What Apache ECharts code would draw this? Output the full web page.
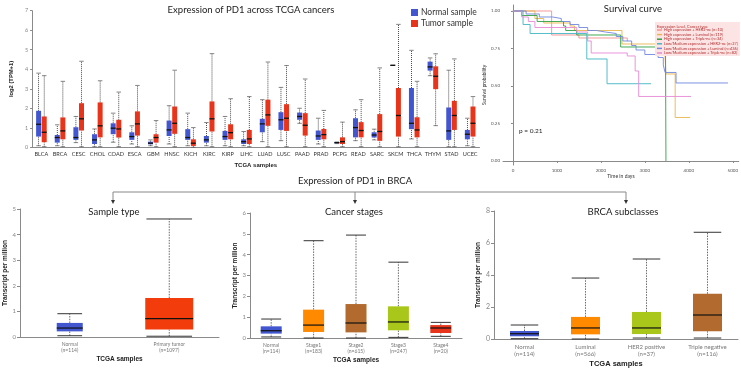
<!DOCTYPE html>
<html>
<head>
<meta charset="utf-8">
<script src="https://cdn.jsdelivr.net/npm/echarts@6/dist/echarts.min.js"></script>
<style>
  html, body { margin: 0; padding: 0; background: #fff; }
  #chart { width: 741px; height: 370px; }
</style>
</head>
<body>
<div id="chart"></div>
<script>
// 泛癌箱线图 (low, q1, median, q3, high)
const cancers = ["BLCA", "BRCA", "CESC", "CHOL", "COAD", "ESCA", "GBM", "HNSC", "KICH", "KIRC", "KIRP", "LIHC",
  "LUAD", "LUSC", "PAAD", "PRAD", "PCPG", "READ", "SARC", "SKCM", "THCA", "THYM", "STAD", "UCEC"];
const normalStats = [
  [0.08, 0.55, 1.18, 1.87, 3.8], [0.08, 0.24, 0.5, 0.63, 1.15], [0.24, 0.38, 0.5, 1.03, 1.58],
  [0.03, 0.17, 0.38, 0.67, 0.94], [0.26, 0.67, 0.98, 1.23, 1.75], [0.17, 0.38, 0.55, 0.77, 1.1],
  [0.08, 0.15, 0.21, 0.29, 0.38], [0.17, 0.58, 0.89, 1.37, 2.13], [0.08, 0.38, 0.5, 0.93, 1.75],
  [0.08, 0.24, 0.38, 0.58, 1.27], [0.08, 0.38, 0.55, 0.84, 1.58], [0.08, 0.17, 0.29, 0.41, 0.81],
  [0.29, 0.77, 1.2, 1.46, 2.44], [0.34, 0.89, 1.41, 1.8, 3.07], [1.23, 1.41, 1.58, 1.78, 2.0],
  [0.17, 0.38, 0.58, 0.86, 1.49], [0.19, 0.21, 0.24, 0.26, 0.27], [0.34, 0.51, 1.01, 1.49, 1.92],
  [0.38, 0.5, 0.63, 0.77, 0.93], [4.2, 4.2, 4.2, 4.2, 4.2], [0.43, 0.93, 1.23, 3.04, 4.97],
  [3.67, 3.93, 4.12, 4.39, 4.58], [0.03, 0.38, 0.84, 2.04, 3.95], [0.08, 0.41, 0.67, 0.89, 1.49],
];
const tumorStats = [
  [0.03, 0.26, 0.77, 1.58, 3.67], [0.03, 0.41, 0.84, 1.53, 3.38], [0.03, 0.86, 1.46, 2.26, 4.41],
  [0.03, 0.51, 1.1, 2.3, 3.41], [0.03, 0.5, 0.94, 1.41, 2.83], [0.03, 0.6, 1.2, 1.84, 3.17],
  [0.03, 0.24, 0.5, 0.67, 1.37], [0.03, 0.69, 1.23, 2.09, 3.95], [0, 0.07, 0.21, 0.41, 1.01],
  [0.03, 0.81, 1.46, 2.35, 4.8], [0.03, 0.41, 0.75, 1.18, 2.49], [0.03, 0.17, 0.43, 0.89, 2.6],
  [0.03, 1.1, 1.66, 2.44, 4.37], [0.03, 0.84, 1.49, 2.21, 4.19], [0.03, 0.6, 1.13, 1.75, 3.5],
  [0.03, 0.41, 0.65, 0.94, 1.89], [0.03, 0.17, 0.29, 0.51, 1.29], [0.03, 0.51, 0.86, 1.29, 2.44],
  [0.03, 0.33, 0.81, 1.7, 4.07], [0.03, 0.55, 1.63, 3.04, 6.3], [0.03, 0.51, 0.89, 1.54, 3.38],
  [1.11, 2.98, 3.64, 4.15, 4.79], [0.03, 0.89, 1.63, 2.38, 4.53], [0.03, 0.55, 1.23, 2.09, 2.6],
];

// 生存曲线 [天数, 生存率]
const survNames = [
  "High expression + HER2-ne (n=10)",
  "High expression + Luminal (n=119)",
  "High expression + Triple-ne (n=34)",
  "Low/Medium expression + HER2-ne (n=27)",
  "Low/Medium expression + Luminal (n=436)",
  "Low/Medium expression + Triple-ne (n=82)",
];
const survHighHer2 = [[0, 1], [880, 0.84], [1500, 0.82], [2600, 0.8], [2620, 0.8]];
const survHighLum = [[0, 1], [500, 0.95], [700, 0.92], [1300, 0.9], [1400, 0.87], [2480, 0.78], [3450, 0.75],
  [3480, 0.58], [3690, 0.29], [4030, 0.29]];
const survHighTri = [[0, 1], [200, 0.97], [550, 0.93], [1150, 0.9], [1200, 0.87], [1450, 0.84], [2450, 0.76],
  [3470, 0.76], [3480, 0]];
const survLowHer2 = [[0, 1], [230, 0.91], [390, 0.85], [1680, 0.68], [2140, 0.515], [3140, 0.515]];
const survLowLum = [[0, 1], [300, 0.98], [600, 0.96], [900, 0.95], [1100, 0.93], [1300, 0.91], [1500, 0.89],
  [1700, 0.87], [1900, 0.86], [2100, 0.85], [2350, 0.83], [2500, 0.8], [2700, 0.77], [2800, 0.74],
  [3000, 0.71], [3300, 0.69], [3420, 0.64], [3460, 0.59], [3710, 0.52], [4890, 0.52]];
const survLowTri = [[0, 1], [200, 0.96], [350, 0.93], [500, 0.89], [1450, 0.86], [1700, 0.8], [1780, 0.72],
  [2600, 0.7], [2780, 0.6], [2860, 0.43], [4050, 0.43]];
const survTicksX = [0, 1000, 2000, 3000, 4000, 5000];
const survTicksY = [0, 0.25, 0.5, 0.75, 1];

// BRCA 子图
const typeCats = ["Normal\n(n=114)", "Primary tumor\n(n=1097)"];
const typeStats = [[0.05, 0.22, 0.35, 0.55, 0.91], [0.03, 0.29, 0.72, 1.52, 4.61]];
const stageCats = ["Normal\n(n=114)", "Stage1\n(n=183)", "Stage2\n(n=615)", "Stage3\n(n=247)", "Stage4\n(n=20)"];
const stageStats = [[0.05, 0.21, 0.35, 0.56, 0.91], [0, 0.29, 0.62, 1.36, 4.67], [0, 0.27, 0.72, 1.63, 4.94],
  [0.03, 0.37, 0.77, 1.52, 3.64], [0.08, 0.24, 0.48, 0.62, 0.75]];
const subCats = ["Normal\n(n=114)", "Luminal\n(n=566)", "HER2 positive\n(n=37)", "Triple negative\n(n=116)"];
const subStats = [[0.02, 0.17, 0.33, 0.5, 0.875], [0, 0.29, 0.69, 1.38, 3.81], [0.06, 0.31, 0.69, 1.69, 5.0],
  [0.06, 0.48, 1.5, 2.83, 6.67]];

// 颜色和尺寸
const BLUE = "#4257cf", RED = "#e8341a", ORANGE = "#ff8a00", BROWN = "#b26a2e", LIME = "#a9c71a";
const typeColors = [BLUE, "#f23c0c"];
const stageColors = [BLUE, ORANGE, BROWN, LIME, RED];
const subColors = [BLUE, ORANGE, LIME, BROWN];
const survColors = ["#f49090", "#e8b64c", "#2ea043", "#3fb6c4", "#6f88e0", "#e68ad6"];
const typeWidths = [26, 48];

function toBoxData(stats, colors) {
  return stats.map((s, i) => ({
    value: [i].concat(s),
    itemStyle: colors ? { color: colors[i] } : undefined,
  }));
}

function boxRender(offset, widthOf, opt) {
  return function (params, api) {
    const i = api.value(0);
    const lo = api.coord([i, api.value(1)]);
    const q1 = api.coord([i, api.value(2)]);
    const md = api.coord([i, api.value(3)]);
    const q3 = api.coord([i, api.value(4)]);
    const hi = api.coord([i, api.value(5)]);
    const w = widthOf(params.dataIndex);
    const x = lo[0] + offset;
    const cw = w * opt.cap;
    const color = api.visual("color");
    const dash = { stroke: opt.whisker, lineWidth: 0.8, lineDash: opt.dash };
    const capStyle = { stroke: opt.capColor, lineWidth: opt.capWidth };
    return {
      type: "group",
      children: [
        { type: "line", shape: { x1: x, y1: lo[1], x2: x, y2: q1[1] }, style: dash },
        { type: "line", shape: { x1: x, y1: q3[1], x2: x, y2: hi[1] }, style: dash },
        { type: "line", shape: { x1: x - cw / 2, y1: lo[1], x2: x + cw / 2, y2: lo[1] }, style: capStyle },
        { type: "line", shape: { x1: x - cw / 2, y1: hi[1], x2: x + cw / 2, y2: hi[1] }, style: capStyle },
        { type: "rect", shape: { x: x - w / 2, y: q3[1], width: w, height: q1[1] - q3[1] }, style: { fill: color } },
        { type: "line", shape: { x1: x - w / 2, y1: md[1], x2: x + w / 2, y2: md[1] },
          style: { stroke: "#111", lineWidth: opt.medWidth } },
      ],
    };
  };
}

const styleA = { whisker: "#222", dash: [1, 1], capColor: "#666", capWidth: 0.8, cap: 0.9, medWidth: 1.3 };
const styleC = { whisker: "#444", dash: [1.5, 1.2], capColor: "#333", capWidth: 1, cap: 0.95, medWidth: 1.2 };

const FONT = "Lato";
const grayAxis = { show: true, lineStyle: { color: "#8a8a8a", width: 1 } };

function catAxis(grid, cats, fs, nameGap, nameSize) {
  return {
    type: "category", gridIndex: grid, data: cats,
    axisLine: grayAxis, axisTick: { show: false },
    axisLabel: { interval: 0, fontSize: fs, color: "#777", margin: 4, lineHeight: fs + 1.2, fontFamily: FONT },
    name: "TCGA samples", nameLocation: "middle", nameGap: nameGap,
    nameTextStyle: { fontSize: nameSize, fontWeight: "bold", color: "#222", fontFamily: "Liberation Sans" },
  };
}
function valAxis(grid, max, interval, fs, nameGap) {
  return {
    type: "value", gridIndex: grid, min: 0, max: max, interval: interval,
    axisLine: grayAxis, axisTick: { show: true, length: 3, lineStyle: { color: "#8a8a8a" } },
    splitLine: { show: false },
    axisLabel: { fontSize: fs, color: "#888", margin: 4, fontFamily: FONT },
    name: "Transcript per million", nameLocation: "middle", nameGap: nameGap,
    nameTextStyle: { fontSize: 6.5, fontWeight: "bold", color: "#222", fontFamily: "Liberation Sans" },
  };
}

function arrow(x) {
  return [
    { type: "line", shape: { x1: x, y1: 192, x2: x, y2: 201 }, style: { stroke: "#888", lineWidth: 1 } },
    { type: "polygon", shape: { points: [[x - 2, 200], [x + 2, 200], [x, 204]] }, style: { fill: "#333" } },
  ];
}
function label(text, x, y, size) {
  return {
    type: "text", x: x, y: y,
    style: { text: text, fontSize: size, fontFamily: FONT, fill: "#222", textAlign: "center", textVerticalAlign: "middle" },
  };
}

const survSeries = [survHighHer2, survHighLum, survHighTri, survLowHer2, survLowLum, survLowTri].map((d, k) => ({
  name: survNames[k], type: "line", xAxisIndex: 1, yAxisIndex: 1, step: "end", data: d,
  showSymbol: false, lineStyle: { width: 0.9, color: survColors[k] }, itemStyle: { color: survColors[k] },
  z: 3,
}));

const chart = echarts.init(document.getElementById("chart"));
chart.setOption({
  animation: false,
  backgroundColor: "#fff",
  textStyle: { fontFamily: FONT },
  grid: [
    { left: 21.5, top: 10.7, width: 458, height: 136.6 },
    { left: 503, top: 5, width: 237, height: 160 },
    { left: 20, top: 209, width: 199, height: 128 },
    { left: 250, top: 213, width: 212, height: 125 },
    { left: 494, top: 211, width: 244, height: 128 },
  ],
  legend: [
    {
      data: ["Normal sample", "Tumor sample"], left: 411, top: 8, orient: "vertical",
      icon: "rect", itemWidth: 7, itemHeight: 7, itemGap: 2, padding: 0,
      textStyle: { fontSize: 8.5, color: "#333", fontFamily: FONT, padding: [0, 0, 0, -2] },
    },
    {
      data: survNames, left: 655, top: 22, orient: "vertical", icon: "rect",
      itemWidth: 5, itemHeight: 1.5, itemGap: 0.6, padding: [6, 2, 1, 2],
      backgroundColor: "#fde4e4",
      textStyle: { fontSize: 3.9, color: "#b02a2a", fontFamily: FONT, padding: [0, 0, 0, -3] },
    },
  ],
  xAxis: [
    {
      type: "category", gridIndex: 0, data: cancers,
      axisLine: grayAxis, axisTick: { show: false },
      axisLabel: { interval: 0, fontSize: 5.6, color: "#333", margin: 4, fontFamily: FONT },
      name: "TCGA samples", nameLocation: "middle", nameGap: 15,
      nameTextStyle: { fontSize: 6, fontWeight: "bold", color: "#222", fontFamily: "Liberation Sans" },
    },
    {
      type: "value", gridIndex: 1, min: -226, max: 5136,
      axisLine: grayAxis, splitLine: { show: false },
      axisTick: { show: true, length: 2, customValues: survTicksX, lineStyle: { color: "#888" } },
      axisLabel: { fontSize: 4.5, color: "#555", margin: 3, customValues: survTicksX,
        formatter: (v) => String(v) },
      name: "Time in days", nameLocation: "middle", nameGap: 9,
      nameTextStyle: { fontSize: 5, color: "#333" },
    },
    catAxis(2, typeCats, 5, 19, 6.5),
    catAxis(3, stageCats, 5, 19, 6.5),
    catAxis(4, subCats, 6, 21, 7.5),
  ],
  yAxis: [
    {
      type: "value", gridIndex: 0, min: 0, max: 7, interval: 1,
      axisLine: grayAxis, axisTick: { show: true, length: 2, lineStyle: { color: "#8a8a8a" } },
      splitLine: { show: false },
      axisLabel: { fontSize: 5.5, color: "#888", margin: 4 },
      name: "log2 (TPM+1)", nameLocation: "middle", nameGap: 11,
      nameTextStyle: { fontSize: 5.8, fontWeight: "bold", color: "#222", fontFamily: "Liberation Sans" },
    },
    {
      type: "value", gridIndex: 1, min: -0.027, max: 1.04,
      axisLine: grayAxis, splitLine: { show: false },
      axisTick: { show: true, length: 2, customValues: survTicksY, lineStyle: { color: "#888" } },
      axisLabel: { fontSize: 4.5, color: "#555", margin: 3, customValues: survTicksY,
        formatter: (v) => v.toFixed(2) },
      name: "Survival probability", nameLocation: "middle", nameGap: 12,
      nameTextStyle: { fontSize: 4.8, color: "#333" },
    },
    valAxis(2, 5, 1, 6, 11),
    valAxis(3, 6, 1, 6, 11),
    valAxis(4, 8, 2, 7, 11),
  ],
  series: [
    {
      name: "Normal sample", type: "custom", xAxisIndex: 0, yAxisIndex: 0,
      itemStyle: { color: BLUE }, encode: { x: 0, y: [1, 2, 3, 4, 5] },
      data: toBoxData(normalStats), renderItem: boxRender(-2.8, () => 5, styleA),
    },
    {
      name: "Tumor sample", type: "custom", xAxisIndex: 0, yAxisIndex: 0,
      itemStyle: { color: RED }, encode: { x: 0, y: [1, 2, 3, 4, 5] },
      data: toBoxData(tumorStats), renderItem: boxRender(2.8, () => 5, styleA),
    },
    ...survSeries,
    {
      type: "custom", xAxisIndex: 2, yAxisIndex: 2, encode: { x: 0, y: [1, 2, 3, 4, 5] },
      data: toBoxData(typeStats, typeColors), renderItem: boxRender(0, (i) => typeWidths[i], styleC),
    },
    {
      type: "custom", xAxisIndex: 3, yAxisIndex: 3, encode: { x: 0, y: [1, 2, 3, 4, 5] },
      data: toBoxData(stageStats, stageColors), renderItem: boxRender(0, () => 21, styleC),
    },
    {
      type: "custom", xAxisIndex: 4, yAxisIndex: 4, encode: { x: 0, y: [1, 2, 3, 4, 5] },
      data: toBoxData(subStats, subColors), renderItem: boxRender(0, () => 29, styleC),
    },
  ],
  graphic: [
    label("Expression of PD1 across TCGA cancers", 251, 10, 9.5),
    label("Survival curve", 633, 9, 9.5),
    label("Expression of PD1 in BRCA", 355, 181, 9.5),
    label("Sample type", 114, 212, 9.5),
    label("Cancer stages", 354, 212, 9.5),
    label("BRCA subclasses", 623, 212, 9.5),
    {
      type: "text", x: 519, y: 131,
      style: { text: "p = 0.21", fontSize: 6.5, fill: "#222", fontFamily: FONT, textVerticalAlign: "middle" },
    },
    {
      type: "text", x: 657, y: 25, z: 10,
      style: { text: "Expression Level, Cancer type", fontSize: 3.9, fill: "#b02a2a", fontFamily: FONT },
    },
    { type: "line", shape: { x1: 113, y1: 192, x2: 626, y2: 192 }, style: { stroke: "#888", lineWidth: 1 } },
    ...arrow(113), ...arrow(355), ...arrow(626),
  ],
});
</script>
</body>
</html>
